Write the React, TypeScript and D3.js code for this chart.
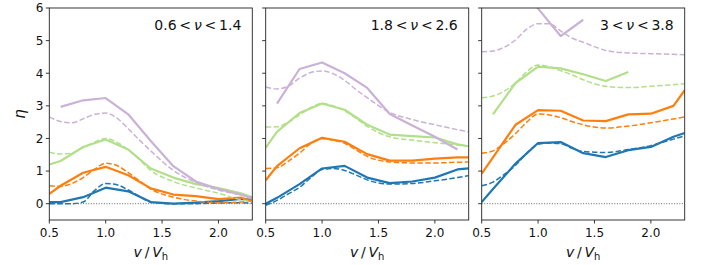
import React from "react";
import * as d3 from "d3";

const xSolid = [0.5, 0.6, 0.8, 1.0, 1.2, 1.4, 1.6, 1.8, 2.0, 2.2, 2.3];
const xDash = [0.5, 0.6, 0.7, 0.8, 0.9, 1.0, 1.1, 1.2, 1.3, 1.4, 1.6, 1.8, 2.0, 2.2, 2.3];

const panelLabels = [["0.6", "1.4"], ["1.8", "2.6"], ["3", "3.8"]];
const xTicks = [0.5, 1.0, 1.5, 2.0];
const yTicks = [0, 1, 2, 3, 4, 5, 6];
const seriesColors = ["#1f77b4", "#ff7f0e", "#b2df8a", "#cab2d6"];

// panel 1
const blueSolid1 = [0.05, 0.05, 0.2, 0.49, 0.38, 0.05, 0.0, 0.03, 0.08, 0.15, 0.12];
const blueDash1 = [0.0, 0.0, 0.0, 0.05, 0.4, 0.62, 0.58, 0.42, 0.22, 0.05, 0.0, 0.0, 0.02, 0.03, 0.02];
const orangeSolid1 = [0.3, 0.55, 0.95, 1.13, 0.87, 0.47, 0.28, 0.23, 0.14, 0.19, 0.06];
const orangeDash1 = [0.55, 0.53, 0.62, 0.8, 1.05, 1.24, 1.17, 0.95, 0.7, 0.45, 0.2, 0.08, 0.03, 0.05, 0.12];
const greenSolid1 = [1.2, 1.31, 1.74, 1.97, 1.66, 1.08, 0.8, 0.6, 0.48, 0.32, 0.2];
const greenDash1 = [1.58, 1.52, 1.55, 1.72, 1.88, 2.0, 1.88, 1.65, 1.35, 1.02, 0.68, 0.48, 0.32, 0.12, 0.06];
const purpleSolid1 = [null, 2.97, 3.17, 3.24, 2.74, 1.92, 1.15, 0.68, 0.45, 0.28, 0.15];
const purpleDash1 = [2.66, 2.52, 2.48, 2.6, 2.74, 2.78, 2.62, 2.3, 1.95, 1.62, 1.02, 0.65, 0.42, 0.27, 0.2];

// panel 2
const blueSolid2 = [0.0, 0.18, 0.6, 1.08, 1.16, 0.8, 0.63, 0.68, 0.8, 1.05, 1.08];
const blueDash2 = [-0.05, 0.1, 0.3, 0.5, 0.8, 1.05, 1.08, 1.02, 0.88, 0.73, 0.6, 0.62, 0.7, 0.8, 0.86];
const orangeSolid2 = [0.72, 1.15, 1.7, 2.02, 1.9, 1.52, 1.32, 1.32, 1.38, 1.42, 1.42];
const orangeDash2 = [1.08, 1.1, 1.3, 1.55, 1.85, 2.0, 1.95, 1.85, 1.65, 1.45, 1.28, 1.25, 1.25, 1.27, 1.28];
const greenSolid2 = [1.72, 2.2, 2.78, 3.07, 2.88, 2.42, 2.12, 2.07, 2.03, 1.82, 1.76];
const greenDash2 = [2.35, 2.36, 2.5, 2.72, 2.95, 3.07, 3.0, 2.85, 2.62, 2.37, 2.05, 1.95, 1.87, 1.8, 1.76];
const purpleSolid2 = [null, 3.07, 4.13, 4.33, 4.0, 3.55, 2.75, 2.4, 2.05, 1.66, null];
const purpleDash2 = [3.58, 3.52, 3.6, 3.85, 4.02, 4.07, 3.98, 3.78, 3.5, 3.25, 2.8, 2.58, 2.42, 2.27, 2.2];

// panel 3
const blueSolid3 = [0.05, 0.45, 1.23, 1.86, 1.89, 1.55, 1.43, 1.64, 1.74, 2.05, 2.17];
const blueDash3 = [0.55, 0.66, 0.9, 1.18, 1.55, 1.82, 1.86, 1.84, 1.7, 1.6, 1.57, 1.66, 1.78, 1.98, 2.08];
const orangeSolid3 = [0.92, 1.42, 2.42, 2.87, 2.85, 2.55, 2.53, 2.74, 2.76, 3.0, 3.48];
const orangeDash3 = [1.55, 1.62, 1.85, 2.15, 2.5, 2.75, 2.72, 2.64, 2.52, 2.42, 2.32, 2.38, 2.48, 2.6, 2.66];
const greenSolid3 = [null, 2.74, 3.7, 4.2, 4.15, 3.97, 3.76, 4.04, null, null, null];
const greenDash3 = [3.25, 3.3, 3.45, 3.7, 4.05, 4.25, 4.2, 4.08, 3.95, 3.8, 3.6, 3.56, 3.6, 3.65, 3.68];
const purpleSolid3 = [null, null, 6.8, 5.98, 5.14, 5.64, null, null, null, null, null];
const purpleDash3 = [4.66, 4.68, 4.8, 5.02, 5.35, 5.52, 5.52, 5.3, 5.08, 4.95, 4.7, 4.62, 4.6, 4.58, 4.57];

const panelSolids = [
  [blueSolid1, orangeSolid1, greenSolid1, purpleSolid1],
  [blueSolid2, orangeSolid2, greenSolid2, purpleSolid2],
  [blueSolid3, orangeSolid3, greenSolid3, purpleSolid3],
];
const panelDashes = [
  [blueDash1, orangeDash1, greenDash1, purpleDash1],
  [blueDash2, orangeDash2, greenDash2, purpleDash2],
  [blueDash3, orangeDash3, greenDash3, purpleDash3],
];

const W = 706, H = 265;
const panelLefts = [49.3, 265.7, 481.7];
const PW = 203;
const TOP = 8, BOTTOM = 220;
const FONT = "DejaVu Sans, sans-serif";

export default function App() {
  const x = d3.scaleLinear().domain([0.5, 2.3]).range([0, PW]);
  const y = d3.scaleLinear().domain([-0.5, 6]).range([BOTTOM, TOP]);

  const lineOf = (xs: number[], curve: any) =>
    d3.line<[number, number | null]>()
      .defined((d) => d[1] !== null)
      .x((d) => x(d[0]))
      .y((d) => y(d[1] as number))
      .curve(curve);

  return (
    <svg width={W} height={H} style={{ position: "absolute", left: 0, top: 0, background: "#fff" }}
      fontFamily={FONT}>
      <defs>
        <clipPath id="pclip">
          <rect x={0} y={TOP} width={PW} height={BOTTOM - TOP} />
        </clipPath>
      </defs>
      {panelLefts.map((left, pi) => (
        <g key={pi} transform={`translate(${left},0)`}>
          <g clipPath="url(#pclip)">
            <line x1={0} x2={PW} y1={y(0)} y2={y(0)} stroke="#555" strokeWidth={0.9}
              strokeDasharray="1,1.6" />
            {seriesColors.map((c, si) => {
              const dpts = xDash.map((xv, i) => [xv, panelDashes[pi][si][i]] as [number, number | null]);
              const spts = xSolid.map((xv, i) => [xv, panelSolids[pi][si][i]] as [number, number | null]);
              return (
                <g key={si}>
                  <path d={lineOf(xDash, d3.curveMonotoneX)(dpts) || ""} fill="none" stroke={c}
                    strokeWidth={1.5} strokeDasharray="5.5,2.4" />
                  <path d={lineOf(xSolid, d3.curveLinear)(spts) || ""} fill="none" stroke={c}
                    strokeWidth={2.2} strokeLinejoin="round" />
                </g>
              );
            })}
          </g>
          <rect x={0} y={TOP} width={PW} height={BOTTOM - TOP} fill="none" stroke="#222" strokeWidth={0.9} />
          {xTicks.map((t) => (
            <g key={t} transform={`translate(${x(t)},${BOTTOM})`}>
              <line y1={0} y2={3.5} stroke="#222" strokeWidth={0.9} />
              <text y={17} textAnchor="middle" fontSize={12} fill="#111">{t.toFixed(1)}</text>
            </g>
          ))}
          {yTicks.map((t) => (
            <g key={t} transform={`translate(0,${y(t)})`}>
              <line x1={-3.5} x2={0} stroke="#222" strokeWidth={0.9} />
              {pi === 0 && (
                <text x={-6} dy="0.36em" textAnchor="end" fontSize={12} fill="#111">{t}</text>
              )}
            </g>
          ))}
          <text x={PW - 11} y={30} textAnchor="end" fontSize={14} fill="#111">
            {panelLabels[pi][0]}{"\u2009<\u2009"}<tspan fontStyle="italic">ν</tspan>{"\u2009<\u2009"}{panelLabels[pi][1]}
          </text>
          <text x={PW / 2} y={257} textAnchor="middle" fontSize={14} fill="#111">
            <tspan fontStyle="italic">v</tspan>
            <tspan>{"\u2009/\u2009"}</tspan>
            <tspan fontStyle="italic">V</tspan>
            <tspan fontSize={10} dy={3}>h</tspan>
          </text>
        </g>
      ))}
      <text transform={`translate(25,${(TOP + BOTTOM) / 2}) rotate(-90)`} textAnchor="middle"
        fontSize={15} fontStyle="italic" fill="#111">η</text>
    </svg>
  );
}
